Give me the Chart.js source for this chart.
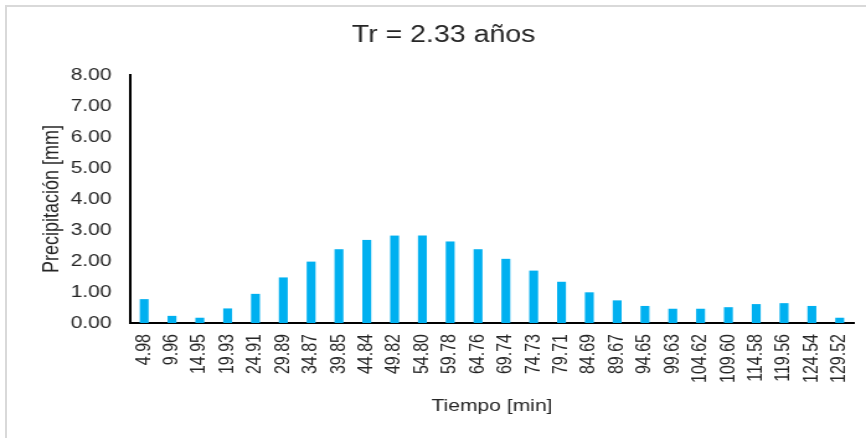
<!DOCTYPE html>
<html>
<head>
<meta charset="utf-8">
<script src="https://cdn.jsdelivr.net/npm/chart.js@4.4.1/dist/chart.umd.min.js"></script>
<style>
  body { margin: 0; background: #fff; overflow: hidden; }
  #marco {
    position: absolute; left: 5px; top: 5px;
    width: 900px; height: 500px;
    border: 2px solid #d9d9d9;
  }
  #hietograma {
    position: absolute; left: 0; top: 0;
    transform: scaleX(1.2407);
    transform-origin: 0 0;
  }
</style>
</head>
<body>
<div id="marco"></div>
<canvas id="hietograma" width="698" height="438"></canvas>
<script>
// Tiempo [min] (eje x)
const tiempos = [
  "4.98", "9.96", "14.95", "19.93", "24.91", "29.89", "34.87", "39.85", "44.84",
  "49.82", "54.80", "59.78", "64.76", "69.74", "74.73", "79.71", "84.69", "89.67",
  "94.65", "99.63", "104.62", "109.60", "114.58", "119.56", "124.54", "129.52",
];
// Precipitación [mm] (eje y)
const precipitacion = [
  0.77, 0.23, 0.17, 0.47, 0.94, 1.47, 1.98, 2.38, 2.68,
  2.82, 2.82, 2.63, 2.38, 2.07, 1.69, 1.33, 0.99, 0.73,
  0.55, 0.46, 0.46, 0.51, 0.61, 0.64, 0.55, 0.17,
];
const yMin = 0;
const yMax = 8;
const yPaso = 1;

Chart.defaults.font.family = '"Liberation Sans", Arial, sans-serif';
Chart.defaults.color = "#262626";

const ctx = document.getElementById("hietograma").getContext("2d");
const grafico = new Chart(ctx, {
  type: "bar",
  data: {
    labels: tiempos,
    datasets: [
      {
        label: "Precipitación",
        data: precipitacion,
        backgroundColor: "#00b0f0",
        borderWidth: 0,
        barPercentage: 0.32,
        categoryPercentage: 1,
      },
    ],
  },
  options: {
    responsive: false,
    animation: false,
    layout: {
      padding: { left: 27, right: 10, top: 12, bottom: 17 },
    },
    plugins: {
      legend: { display: false },
      tooltip: { enabled: false },
      title: {
        display: true,
        text: "Tr = 2.33 años",
        color: "#262626",
        font: { size: 23, weight: "normal" },
        padding: { top: 10, bottom: 25.4 },
      },
    },
    scales: {
      x: {
        grid: { display: false, drawTicks: false },
        border: { display: true, color: "#000", width: 2 },
        ticks: {
          autoSkip: false,
          minRotation: 90,
          maxRotation: 90,
          padding: 11,
          font: { size: 16 },
          color: "#262626",
        },
        title: {
          display: true,
          text: "Tiempo [min]",
          font: { size: 17 },
          color: "#262626",
        },
        afterFit: function (scale) {
          scale.height = 98;
          scale.paddingLeft = 0;
          scale.paddingRight = 0;
        },
      },
      y: {
        min: yMin,
        max: yMax,
        grid: { display: false, drawTicks: false },
        border: { display: true, color: "#000", width: 2 },
        ticks: {
          stepSize: yPaso,
          padding: 15,
          font: { size: 17 },
          color: "#262626",
          callback: function (value) {
            return Number(value).toFixed(2);
          },
        },
        title: {
          display: true,
          text: "Precipitación [mm]",
          font: { size: 18 },
          color: "#262626",
        },
        afterFit: function (scale) {
          scale.width = 78;
        },
      },
    },
  },
});
</script>
</body>
</html>
